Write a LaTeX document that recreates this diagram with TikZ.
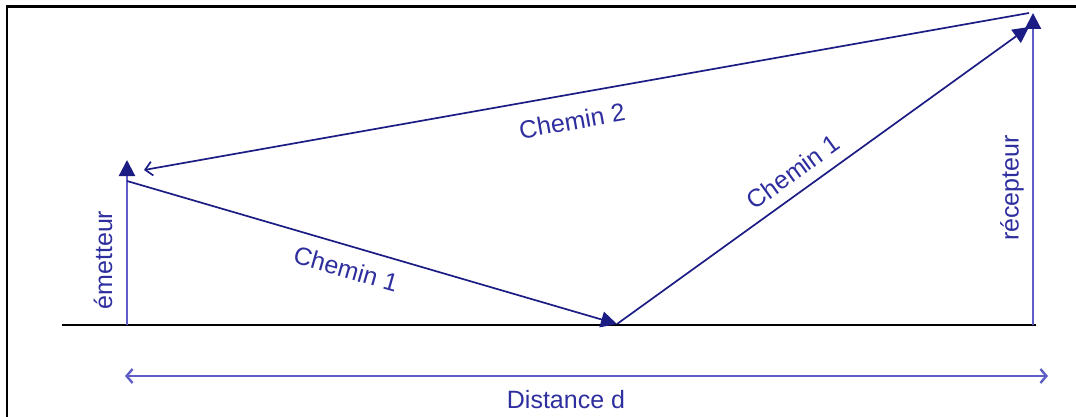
\documentclass[tikz,border=0pt]{standalone}
\usepackage{fontspec}
\setmainfont{Liberation Sans}
\usetikzlibrary{arrows.meta}
\definecolor{navy}{HTML}{1C1C85}
\definecolor{pole}{HTML}{5E5EC4}
\definecolor{txt}{HTML}{2E2E9E}
\tikzset{
  path/.style={draw=navy, line width=1.7pt},
  polestyle/.style={draw=pole, line width=2.2pt},
  filledtip/.style={-{Triangle[length=16pt,width=16pt,color=navy]}},
  lbl/.style={text=txt, inner sep=0pt, font=\fontsize{25}{28}\selectfont},
}
\begin{document}
\begin{tikzpicture}[x=1pt,y=-1pt]
\useasboundingbox (0,0) rectangle (1076,417);
% frame (top and left only)
\draw[black, line width=2.6pt] (7,417) -- (7,6.5) -- (1076,6.5);
% coordinates
\coordinate (g0) at (62,325);
\coordinate (g1) at (1036,325);
\coordinate (ebase) at (127,325);
\coordinate (etop) at (127,160);
\coordinate (esrc) at (127,181);
\coordinate (refl) at (617,324);
\coordinate (rbase) at (1033,325);
\coordinate (rtop) at (1033,13);
\coordinate (rin) at (1029,27);
\coordinate (c2s) at (1029,13);
\coordinate (c2e) at (144,170);
\coordinate (d0) at (125,376);
\coordinate (d1) at (1048,376);
% ground
\draw[black, line width=1.4pt] (g0) -- (g1);
% poles
\draw[polestyle, filledtip] (ebase) -- (etop);
\draw[polestyle, filledtip] (rbase) -- (rtop);
% paths
\draw[path, filledtip] (esrc) -- (refl);
\draw[path, filledtip] (refl) -- (rin);
\draw[path, -{Straight Barb[length=7pt,width=14pt]}] (c2s) -- (c2e);
% distance
\draw[pole, line width=2.4pt, {Straight Barb[length=6pt,width=14pt]}-{Straight Barb[length=6pt,width=14pt]}] (d0) -- (d1);
% labels
\node[lbl, rotate=90] (lem) at (103,260) {émetteur};
\node[lbl, rotate=90] (lrec) at (1012,188) {récepteur};
\node[lbl, rotate=10] (lc2) at (572,121) {Chemin 2};
\node[lbl, rotate=-16] (lc1a) at (346,269) {Chemin 1};
\node[lbl, rotate=36] (lc1b) at (793,172) {Chemin 1};
\node[lbl] (ld) at (566,400) {Distance d};
\end{tikzpicture}
\end{document}
